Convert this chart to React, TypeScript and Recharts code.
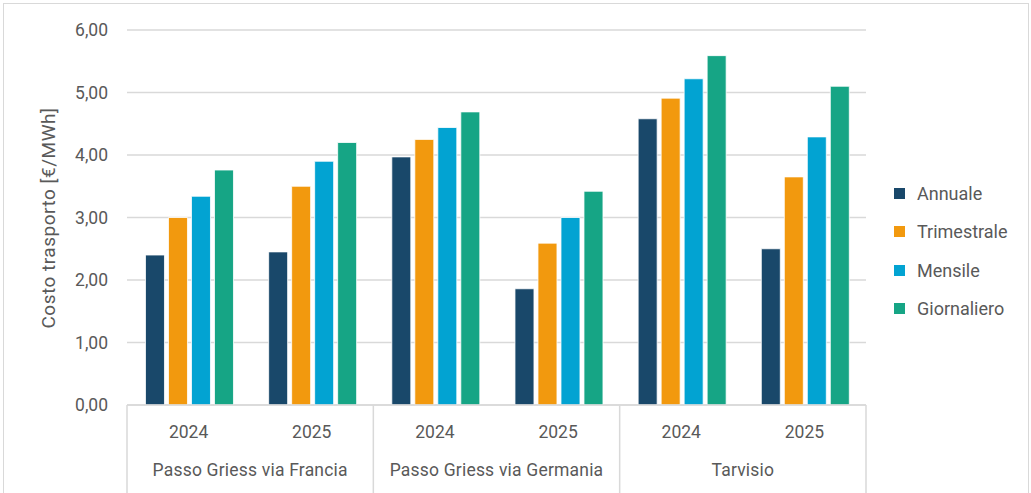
import { BarChart, Bar, XAxis, YAxis, CartesianGrid } from "recharts";

// Categories (year within each corridor)
const years = ["2024", "2025", "2024", "2025", "2024", "2025"];
const groups = [
    "Passo Griess via Francia",
    "Passo Griess via Francia",
    "Passo Griess via Germania",
    "Passo Griess via Germania",
    "Tarvisio",
    "Tarvisio",
];

// Series values [€/MWh]
const annuale = [2.4, 2.45, 3.97, 1.86, 4.58, 2.5];
const trimestrale = [3.0, 3.5, 4.25, 2.59, 4.91, 3.65];
const mensile = [3.34, 3.9, 4.44, 3.0, 5.22, 4.29];
const giornaliero = [3.76, 4.2, 4.69, 3.42, 5.59, 5.1];

const yTicks = [0, 1, 2, 3, 4, 5, 6];

const series = [
    { key: "Annuale", color: "#19486a" },
    { key: "Trimestrale", color: "#f2990e" },
    { key: "Mensile", color: "#02a3d2" },
    { key: "Giornaliero", color: "#16a585" },
];

const data = years.map((y, i) => ({
    year: y,
    group: groups[i],
    Annuale: annuale[i],
    Trimestrale: trimestrale[i],
    Mensile: mensile[i],
    Giornaliero: giornaliero[i],
}));

const FONT = "Roboto, sans-serif";
const TEXT = "#595959";
const GRID = "#d9d9d9";
const FS = 17.5;

const W = 1031;
const H = 493;
const M = { top: 30, right: 165, left: 0, bottom: 0 };
const Y_W = 127;
const BAND = (W - M.right - Y_W) / years.length;

function YearTick(props: any) {
    const { x, y, payload, index } = props;
    return (
        <g>
            <text x={x} y={y + 33} textAnchor="middle" fill={TEXT} fontSize={FS} fontFamily={FONT}>
                {payload.value}
            </text>
            {index % 2 === 0 && (
                <>
                    <line x1={x - BAND / 2} x2={x - BAND / 2} y1={y} y2={y + 88} stroke={GRID} strokeWidth={1.5} />
                    <text
                        x={x + BAND / 2}
                        y={y + 71}
                        textAnchor="middle"
                        fill={TEXT}
                        fontSize={FS}
                        fontFamily={FONT}
                        letterSpacing={0.2}
                    >
                        {groups[index]}
                    </text>
                </>
            )}
            {index === years.length - 1 && (
                <line x1={x + BAND / 2} x2={x + BAND / 2} y1={y} y2={y + 88} stroke={GRID} strokeWidth={1.5} />
            )}
        </g>
    );
}

function ValueTick(props: any) {
    const { y, payload } = props;
    return (
        <text x={108} y={y + 6} textAnchor="end" fill={TEXT} fontSize={FS} fontFamily={FONT}>
            {payload.value.toFixed(2).replace(".", ",")}
        </text>
    );
}

function LegendBox() {
    return (
        <div
            style={{
                position: "absolute",
                left: 894,
                top: 174,
                fontFamily: FONT,
                fontSize: 18,
                color: TEXT,
            }}
        >
            {series.map((s) => (
                <div key={s.key} style={{ display: "flex", alignItems: "center", height: 38.5 }}>
                    <span style={{ width: 11, height: 11, background: s.color, display: "inline-block", marginRight: 12 }} />
                    <span>{s.key}</span>
                </div>
            ))}
        </div>
    );
}

export default function App() {
    return (
        <div style={{ position: "absolute", left: 0, top: 0, width: W, height: H, background: "#fff" }}>
            <div
                style={{
                    position: "absolute",
                    left: 3,
                    top: 3,
                    width: W - 7,
                    height: H - 3,
                    border: `1.5px solid ${GRID}`,
                    borderBottom: "none",
                }}
            />
            <BarChart
                width={W}
                height={H}
                data={data}
                margin={M}
                barCategoryGap="15%"
                barGap={4}
                style={{ position: "absolute", left: 0, top: 0 }}
            >
                <CartesianGrid vertical={false} stroke={GRID} strokeWidth={1.5} />
                <XAxis
                    dataKey="year"
                    height={88}
                    interval={0}
                    tickLine={false}
                    tickSize={0}
                    tickMargin={0}
                    axisLine={{ stroke: GRID, strokeWidth: 1.5 }}
                    tick={<YearTick />}
                />
                <YAxis
                    width={Y_W}
                    domain={[0, 6]}
                    ticks={yTicks}
                    axisLine={false}
                    tickLine={false}
                    tick={<ValueTick />}
                />
                {series.map((s) => (
                    <Bar
                        key={s.key}
                        dataKey={s.key}
                        fill={s.color}
                        stroke="#ffffff"
                        strokeWidth={0.8}
                        isAnimationActive={false}
                    />
                ))}
            </BarChart>
            <div
                style={{
                    position: "absolute",
                    left: 48,
                    top: 218,
                    transform: "translate(-50%, -50%) rotate(-90deg)",
                    whiteSpace: "nowrap",
                    fontFamily: FONT,
                    fontSize: 19,
                    letterSpacing: 0.5,
                    color: TEXT,
                }}
            >
                Costo trasporto [€/MWh]
            </div>
            <LegendBox />
        </div>
    );
}
